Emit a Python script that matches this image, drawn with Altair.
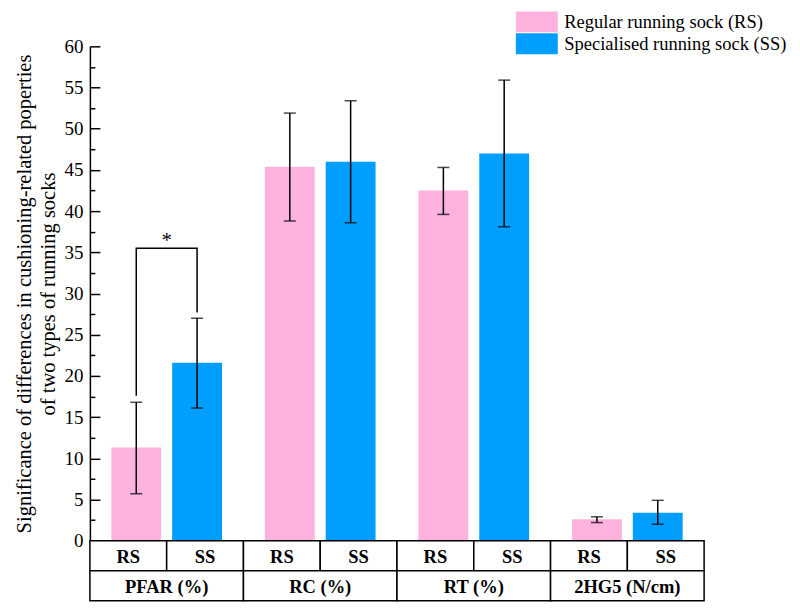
import altair as alt
import pandas as pd

# ---------------- data ----------------
groups = ["PFAR (%)", "RC (%)", "RT (%)", "2HG5 (N/cm)"]
socks = ["RS", "SS"]
sock_names = ["Regular running sock (RS)", "Specialised running sock (SS)"]
colors = ["#FDB3DD", "#009FFF"]

rs_mean = [11.3, 45.4, 42.5, 2.6]
rs_lo = [5.7, 38.8, 39.6, 2.2]
rs_hi = [16.8, 51.9, 45.3, 2.9]
ss_mean = [21.6, 46.0, 47.0, 3.4]
ss_lo = [16.1, 38.6, 38.1, 2.0]
ss_hi = [27.0, 53.4, 55.9, 4.9]

# significance bracket (PFAR)
sig_group = "PFAR (%)"
sig_socks = ["RS", "RS", "SS", "SS"]
sig_y = [17.6, 35.5, 35.5, 27.7]
sig_label = "*"

y_title = ["Significance of differences in cushioning-related poperties",
           "of two types of running socks"]
y_major = list(range(0, 61, 5))
y_all_ticks = [v / 2 for v in range(0, 121, 5)]

FONT = "Liberation Serif, Times New Roman, serif"
W, H = 615, 495

# ---------------- frames ----------------
rows = []
for i, g in enumerate(groups):
    rows.append(dict(group=g, sock="RS", name=sock_names[0], mean=rs_mean[i], lo=rs_lo[i], hi=rs_hi[i]))
    rows.append(dict(group=g, sock="SS", name=sock_names[1], mean=ss_mean[i], lo=ss_lo[i], hi=ss_hi[i]))
df = pd.DataFrame(rows)

sig_df = pd.DataFrame(dict(group=[sig_group] * 4, sock=sig_socks, by=sig_y, ord=list(range(4))))
star_df = pd.DataFrame(dict(group=[sig_group], sy=[max(sig_y)], t=[sig_label]))

x_enc = alt.X("group:N", sort=groups, scale=alt.Scale(paddingInner=0, paddingOuter=0), axis=None)
xo_enc = alt.XOffset("sock:N", sort=socks, scale=alt.Scale(paddingInner=0.18, paddingOuter=0.3525))
yscale = alt.Scale(domain=[0, 60], nice=False)

bars = alt.Chart(df).mark_bar().encode(
    x=x_enc, xOffset=xo_enc,
    y=alt.Y("mean:Q", scale=yscale,
            axis=alt.Axis(values=y_major, ticks=False, tickSize=0, labelPadding=7,
                          domainWidth=1.5, domainColor="black", grid=False,
                          title=y_title, titlePadding=5)),
    color=alt.Color("name:N", scale=alt.Scale(domain=sock_names, range=colors),
                    legend=alt.Legend(orient="none", legendX=437, legendY=-35, title=None,
                                      symbolType="M-2,-1H2V1H-2Z", symbolSize=441,
                                      symbolStrokeWidth=0, symbolOpacity=1,
                                      labelLimit=400, rowPadding=1, labelOffset=17)),
)

errs = alt.Chart(df).mark_rule(color="black", strokeWidth=1.5).encode(
    x=x_enc, xOffset=xo_enc,
    y=alt.Y("lo:Q", scale=yscale,
            axis=alt.Axis(orient="right", offset=-W, labels=False, domain=False, title=None,
                          grid=False, values=y_all_ticks, tickColor="black", tickWidth=1.5,
                          tickSize={"condition": {"test": "datum.value % 5 === 0", "value": 10},
                                    "value": 5})),
    y2="hi:Q",
)

cap_lo = alt.Chart(df).mark_tick(color="black", thickness=1.5, size=12).encode(
    x=x_enc, xOffset=xo_enc, y=alt.Y("lo:Q", scale=yscale, axis=None))
cap_hi = alt.Chart(df).mark_tick(color="black", thickness=1.5, size=12).encode(
    x=x_enc, xOffset=xo_enc, y=alt.Y("hi:Q", scale=yscale, axis=None))

bracket = alt.Chart(sig_df).mark_line(color="black", strokeWidth=1.5).encode(
    x=x_enc, xOffset=xo_enc, y=alt.Y("by:Q", scale=yscale, axis=None), order="ord:Q")

star = alt.Chart(star_df).mark_text(fontSize=21, baseline="alphabetic", dy=-1,
                                    color="black").encode(
    x=x_enc, y=alt.Y("sy:Q", scale=yscale, axis=None), text="t:N")

top = alt.layer(bars, errs, cap_lo, cap_hi, bracket, star).resolve_axis(y="independent").properties(
    width=W, height=H)

# ---------------- table below ----------------
cells = []
for g in groups:
    for s in socks:
        cells.append(dict(cell=g + "|" + s, label=s, row="r1"))
cell_df = pd.DataFrame(cells)
cell_order = [c["cell"] for c in cells]
grp_df = pd.DataFrame(dict(group=groups, label=groups, row=["r2"] * len(groups)))

ry = alt.Y("row:N", sort=["r1", "r2"], scale=alt.Scale(domain=["r1", "r2"], paddingInner=0, paddingOuter=0), axis=None)
cx = alt.X("cell:N", sort=cell_order, scale=alt.Scale(paddingInner=0, paddingOuter=0), axis=None)
gx = alt.X("group:N", sort=groups, scale=alt.Scale(paddingInner=0, paddingOuter=0), axis=None)

r1 = alt.Chart(cell_df).mark_rect(fill="white", stroke="black", strokeWidth=1.5).encode(x=cx, y=ry)
t1 = alt.Chart(cell_df).mark_text(fontSize=18.5, fontWeight="bold", color="black", dy=1).encode(
    x=cx, y=ry, text="label:N")
r2 = alt.Chart(grp_df).mark_rect(fill="white", stroke="black", strokeWidth=1.5).encode(x=gx, y=ry)
t2 = alt.Chart(grp_df).mark_text(fontSize=18.5, fontWeight="bold", color="black", dy=1).encode(
    x=gx, y=ry, text="label:N")

bottom = alt.layer(r1, t1, r2, t2).resolve_scale(x="independent").properties(width=W, height=60)

chart = alt.vconcat(top, bottom, spacing=0, bounds="flush").resolve_scale(
    x="independent", y="independent", xOffset="independent", color="independent"
).properties(
    padding={"left": 6, "top": 3, "right": 5, "bottom": 5}
).configure(font=FONT).configure_view(stroke=None).configure_axis(
    labelFont=FONT, labelFontSize=19, labelColor="black",
    titleFont=FONT, titleFontSize=20.5, titleFontWeight="normal", titleColor="black",
    titleLineHeight=24,
).configure_legend(
    labelFont=FONT, labelFontSize=18.5, labelColor="black"
).configure_text(font=FONT)

chart.save("out.html", embed_options={"renderer": "svg", "actions": False})
